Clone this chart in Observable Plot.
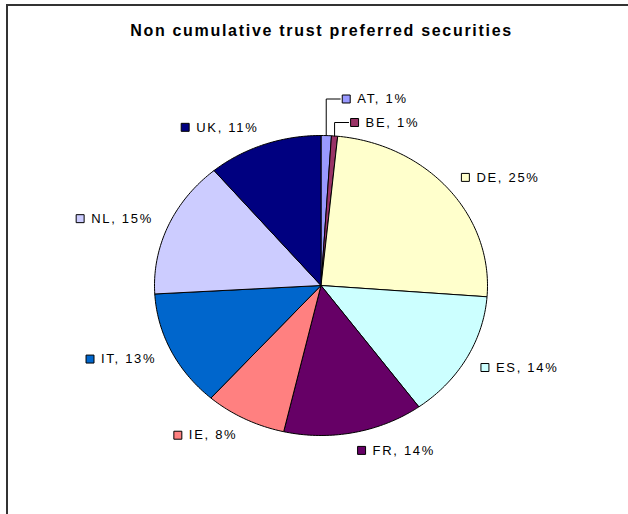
<!DOCTYPE html>
<html>
<head>
<meta charset="utf-8">
<script src="https://cdn.jsdelivr.net/npm/d3@7"></script>
<script src="https://cdn.jsdelivr.net/npm/@observablehq/plot@0.6"></script>
<style>
  body { margin: 0; background: #fff; }
  #wrap { position: relative; width: 628px; height: 514px; overflow: hidden;
          font-family: "Liberation Sans", Arial, sans-serif; }
  #border { position: absolute; left: 6px; top: 4px; width: 700px; height: 600px;
            border-left: 2px solid #333; border-top: 2px solid #333; }
  #title { position: absolute; left: 0; top: 22px; width: 643px; line-height: 18px;
           text-align: center; font-weight: bold; font-size: 16px; letter-spacing: 1.7px; color: #000; }
  #chart { position: absolute; left: 0; top: 0; }
  #chart svg text { letter-spacing: 1.7px; }
</style>
</head>
<body>
<div id="wrap">
  <div id="border"></div>
  <div id="chart"></div>
  <div id="title">Non cumulative trust preferred securities</div>
</div>
<script>
// Country shares of non cumulative trust preferred securities (%)
const countries = ["AT", "BE", "DE", "ES", "FR", "IE", "IT", "NL", "UK"];
const shares = [1.0, 0.6, 24.6, 13.8, 13.6, 7.9, 12.6, 14.8, 11.1];
const palette = ["#9999FF", "#993366", "#FFFFCC", "#CCFFFF", "#660066", "#FF8080", "#0066CC", "#CCCCFF", "#000080"];

// Layout of the (slightly elliptical) pie in pixels
const W = 628, H = 514;
const cx = 320.5, cy = 285, rx = 166.5, ry = 150;
const toX = px => (px - cx) / rx;      // pixel -> x data unit
const toY = py => (py - cy) / ry;      // pixel -> y data unit
const X = v => cx + v * rx;            // x data unit -> pixel

const fontSize = 13, spacing = 1.7;
const keyGap = 15;                      // from key square's left edge to text start
const ctx = document.createElement("canvas").getContext("2d");
ctx.font = `${fontSize}px "Liberation Sans", Arial, sans-serif`;
const textWidth = s => ctx.measureText(s).width + spacing * s.length;

const arcs = d3.pie().sort(null).value(d => d)(shares);

// Slice outlines: centre, arc points, centre
const sliceRows = [];
arcs.forEach((a, i) => {
  const n = Math.max(2, Math.ceil((a.endAngle - a.startAngle) / (Math.PI / 180)));
  sliceRows.push({country: countries[i], x: 0, y: 0});
  for (let t = 0; t <= n; t++) {
    const ang = a.startAngle + (a.endAngle - a.startAngle) * t / n;
    sliceRows.push({country: countries[i], x: Math.sin(ang), y: -Math.cos(ang)});
  }
  sliceRows.push({country: countries[i], x: 0, y: 0});
});

// Labels: outside the rim along the mid angle; tiny slices are lifted above with leaders
const labelRows = [];
const leaderRows = [];
const small = arcs.map((a, i) => i).filter(i => shares[i] < 2);
arcs.forEach((a, i) => {
  const mid = (a.startAngle + a.endAngle) / 2;
  const label = `${countries[i]}, ${Math.round(shares[i])}%`;
  const w = textWidth(label);
  let boxLeft, y;
  if (small.includes(i)) {
    const k = small.indexOf(i);
    const lift = 13 + (small.length - 1 - k) * 23.5;
    const ex = Math.sin(mid), ey = -Math.cos(mid);
    y = -1 - lift / ry;
    boxLeft = X(ex) + 16;
    leaderRows.push({country: countries[i], x: ex, y: ey});
    leaderRows.push({country: countries[i], x: ex, y});
    leaderRows.push({country: countries[i], x: toX(boxLeft - 2), y});
  } else {
    const ax = 1.1 * Math.sin(mid);
    y = -1.1 * Math.cos(mid) * 1.02;
    boxLeft = Math.sin(mid) >= 0 ? X(ax) : X(ax) - w - keyGap;
  }
  labelRows.push({country: countries[i], label, y, sx: toX(boxLeft + 4), tx: toX(boxLeft + keyGap)});
});

const chart = Plot.plot({
  width: W,
  height: H,
  margin: 0,
  x: {domain: [toX(0), toX(W)], range: [0, W], axis: null},
  y: {domain: [toY(0), toY(H)], range: [0, H], axis: null},
  color: {domain: countries, range: palette},
  style: {background: "transparent", fontFamily: '"Liberation Sans", Arial, sans-serif', color: "#000"},
  marks: [
    Plot.line(sliceRows, {x: "x", y: "y", z: "country", fill: "country", stroke: "#000",
                          strokeWidth: 1, strokeLinejoin: "round", curve: "linear"}),
    Plot.line(leaderRows, {x: "x", y: "y", z: "country", stroke: "#000", strokeWidth: 1}),
    Plot.dot(labelRows, {x: "sx", y: "y", symbol: "square", r: 4.5, fill: "country",
                         stroke: "#000", strokeWidth: 1}),
    Plot.text(labelRows, {x: "tx", y: "y", text: "label", textAnchor: "start",
                          lineAnchor: "middle", fontSize, fill: "#000"})
  ]
});
document.getElementById("chart").append(chart);
</script>
</body>
</html>
